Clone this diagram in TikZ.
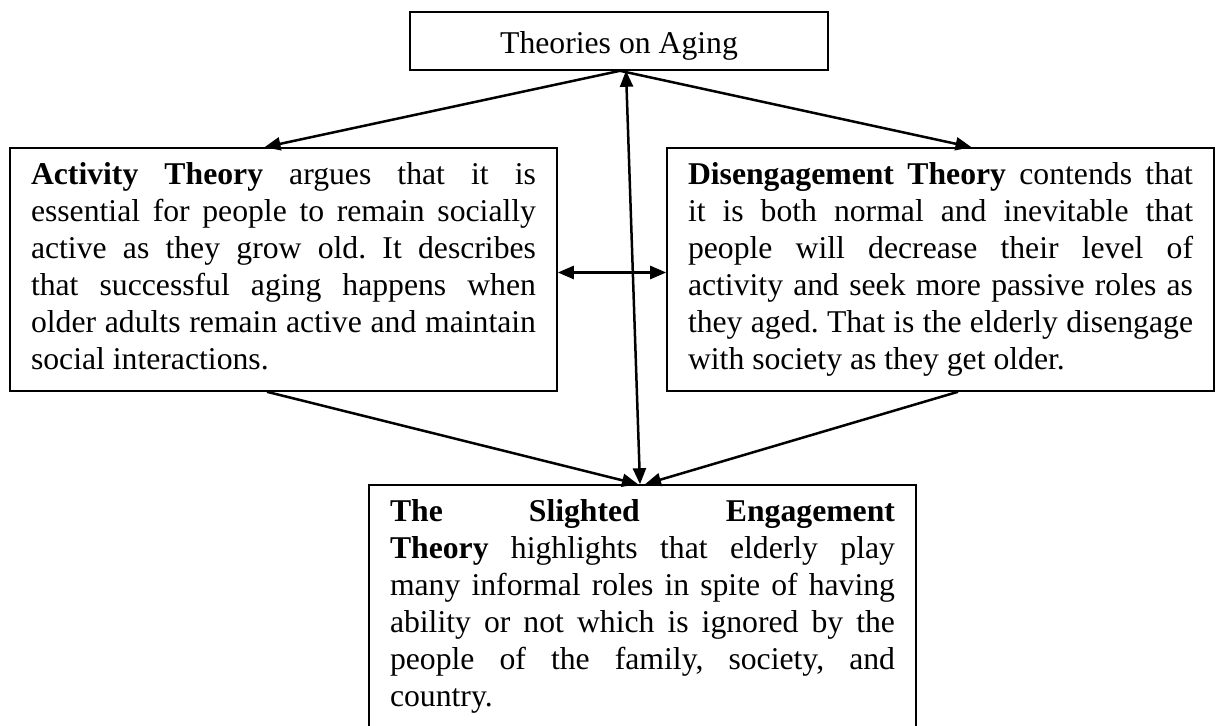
\documentclass[tikz,border=0pt]{standalone}
\usepackage{fontspec}
\setmainfont{Liberation Serif}
\usetikzlibrary{arrows.meta}
\begin{document}
\begin{tikzpicture}[x=1pt,y=-1pt,
  box/.style={draw, line width=1.6pt, rectangle, inner sep=0pt,
    font=\fontsize{31.7pt}{37pt}\selectfont},
  para/.style={box, text width=505pt, align=justify, inner xsep=21pt,
    minimum height=243pt},
  tipA/.tip={Triangle[length=16pt,width=13pt]},
  conn/.style={line width=2.5pt, -tipA},
  both/.style={line width=2.5pt, tipA-tipA}]
\clip (0,0) rectangle (1222,725);
\fill[white] (0,0) rectangle (1222,725);

\node[box, minimum width=418pt, minimum height=58pt, text height=30pt, text depth=6pt]
  (top) at (619,41) {Theories on Aging};

\node[para] (left) at (283.5,269.5) {\frenchspacing\hyphenpenalty=10000\tolerance=10000\strut
\textbf{Activity Theory} argues that it is\linebreak
essential for people to remain socially\linebreak
active as they grow old. It describes\linebreak
that successful aging happens when\linebreak
older adults remain active and maintain\linebreak
social interactions.\strut};

\node[para] (right) at (940.5,269.5) {\frenchspacing\hyphenpenalty=10000\tolerance=10000\strut
\textbf{Disengagement Theory} contends that\linebreak
it is both normal and inevitable that\linebreak
people will decrease their level of\linebreak
activity and seek more passive roles as\linebreak
they aged. That is the elderly disengage\linebreak
with society as they get older.\strut};

\node[para] (bottom) at (642.5,606.5) {\frenchspacing\hyphenpenalty=10000\tolerance=10000\strut
\textbf{The Slighted Engagement}\linebreak
\textbf{Theory} highlights that elderly play\linebreak
many informal roles in spite of having\linebreak
ability or not which is ignored by the\linebreak
people of the family, society, and\linebreak
country.\strut};

\draw[conn] ([xshift=1pt]top.south) -- ([xshift=-19pt]left.north);
\draw[conn] ([xshift=1pt]top.south) -- ([xshift=31pt]right.north);
\draw[both] ([xshift=7pt]top.south) -- ([xshift=-2.5pt]bottom.north);
\draw[both] ([yshift=-3pt]left.east) -- ([yshift=-3pt]right.west);
\draw[conn] ([xshift=-16.5pt]left.south) -- ([xshift=-4.5pt]bottom.north);
\draw[conn] ([xshift=17.5pt]right.south) -- ([xshift=2.5pt]bottom.north);
\end{tikzpicture}
\end{document}
